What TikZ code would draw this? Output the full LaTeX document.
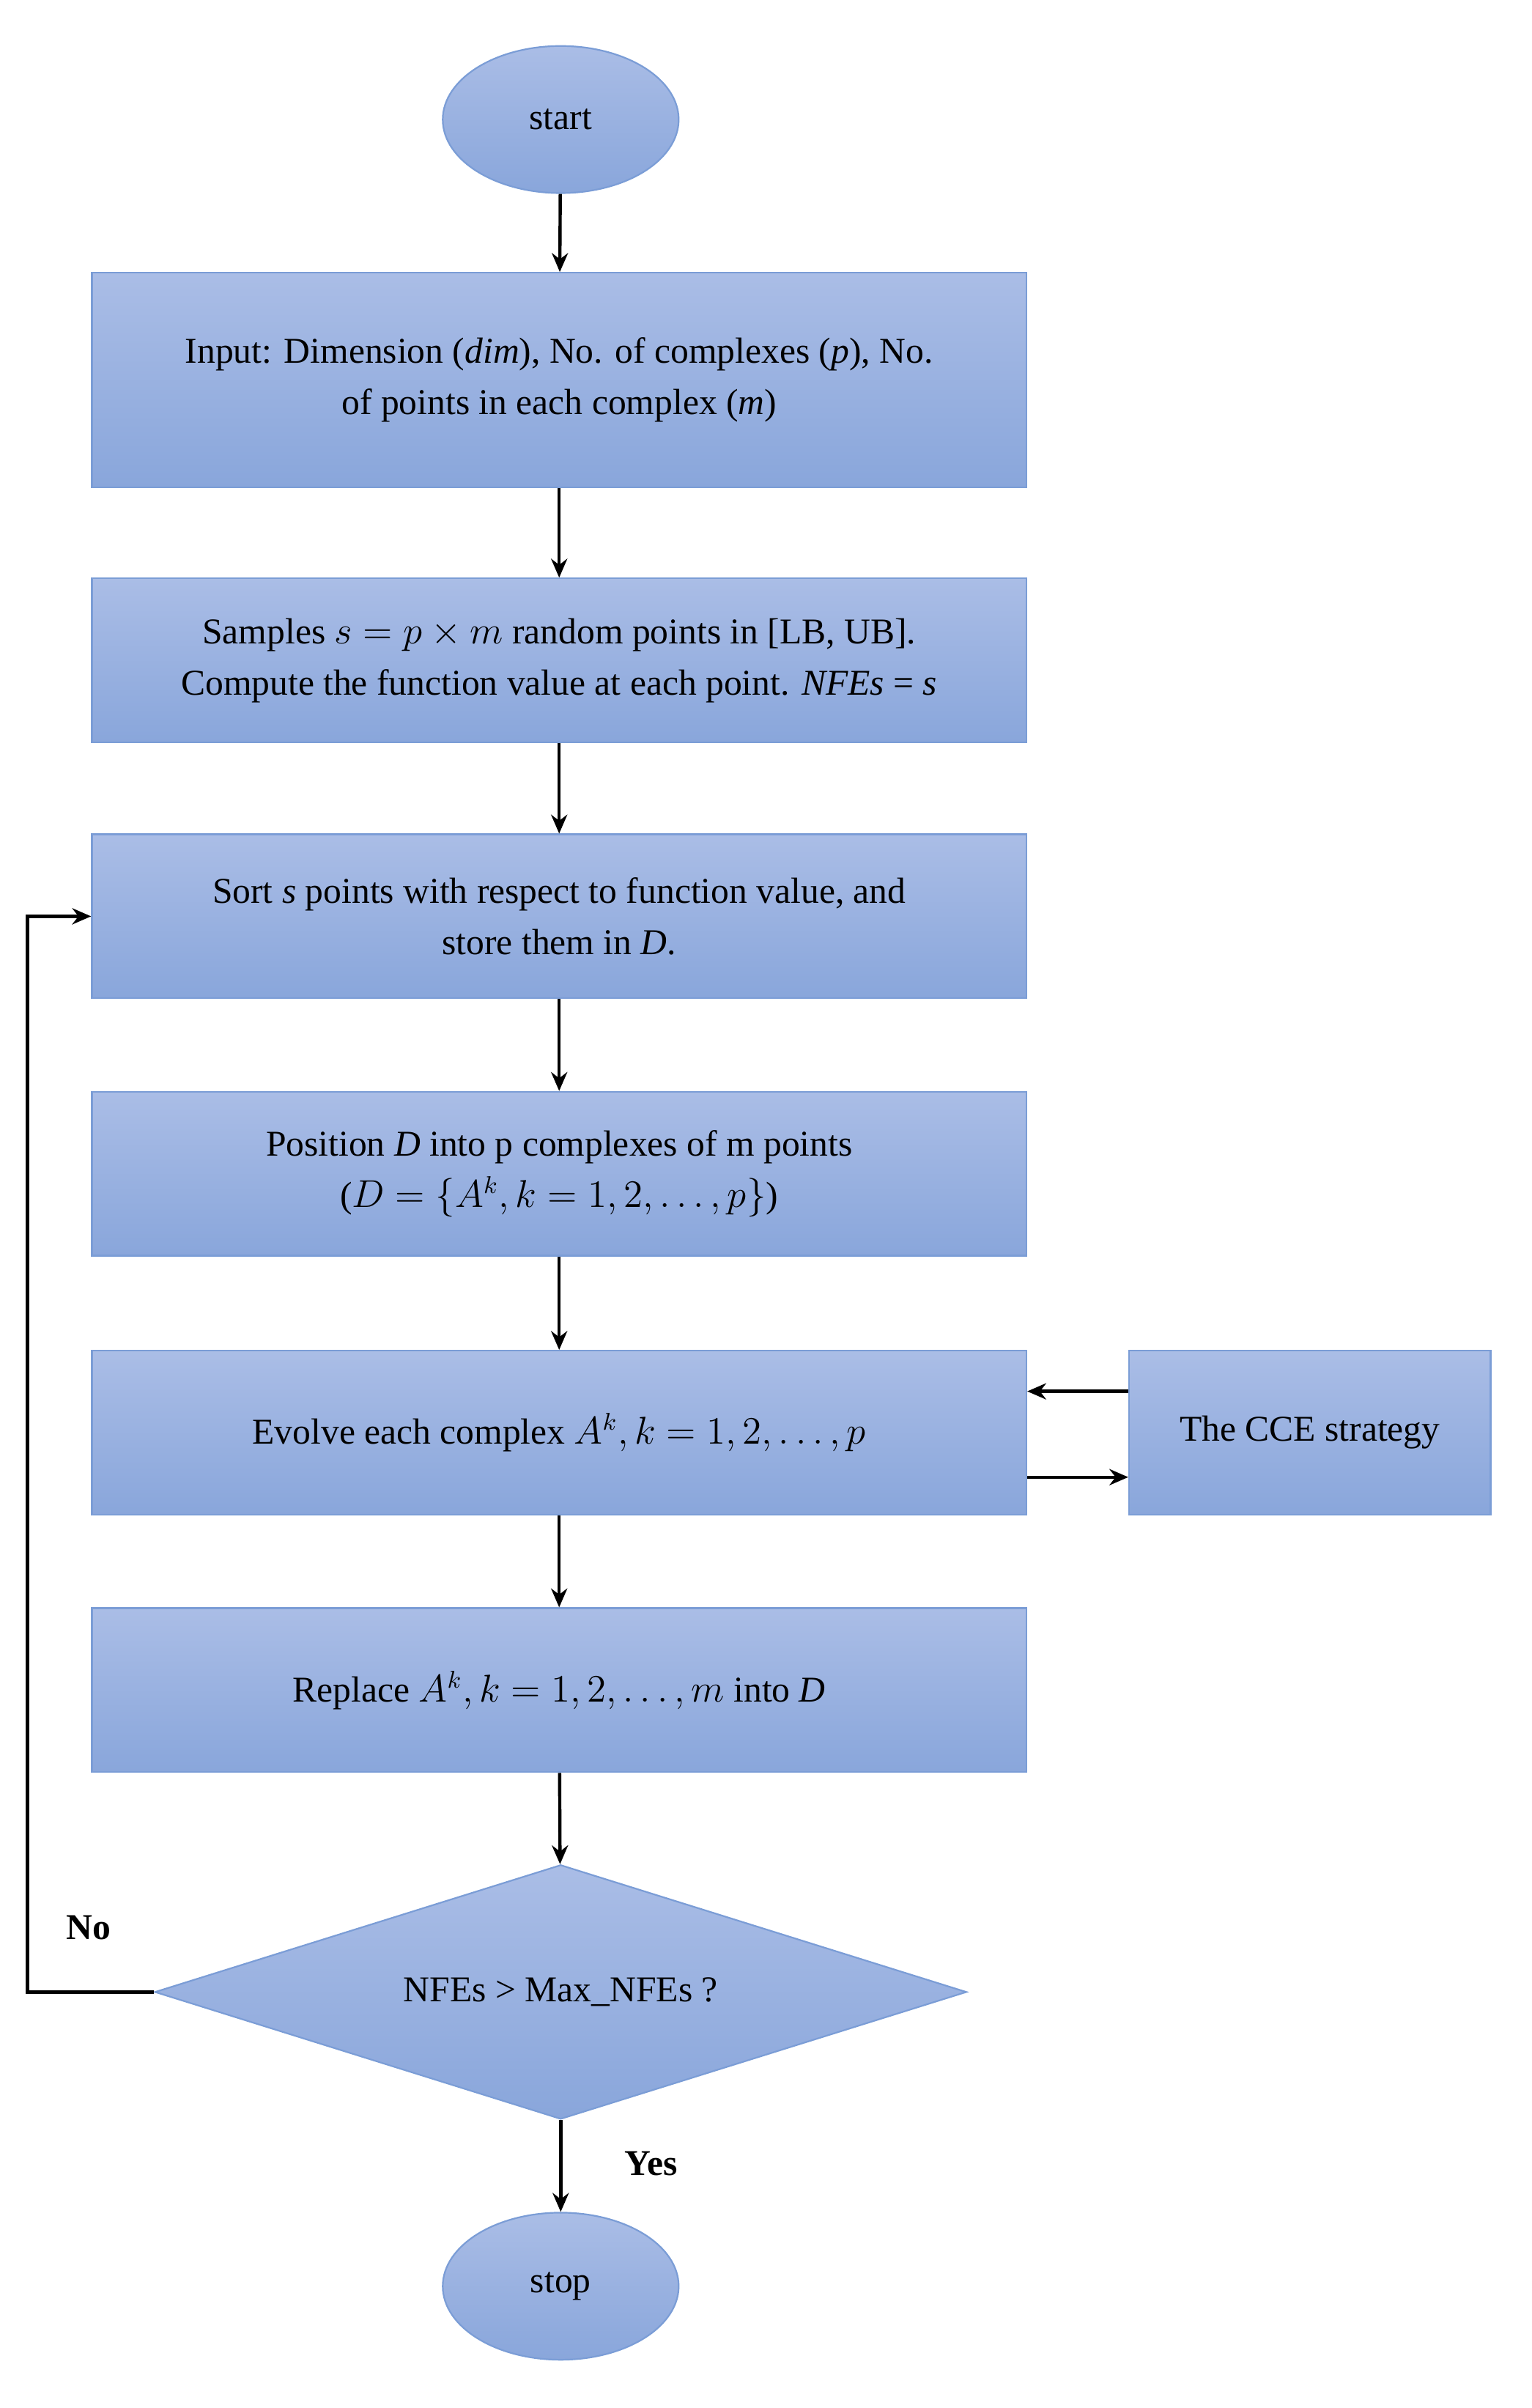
\documentclass[tikz,border=0pt]{standalone}
\usepackage{fontspec}
\setmainfont{Liberation Serif}
\usepackage{amsmath}
\usetikzlibrary{shapes.geometric,arrows.meta}
\definecolor{topc}{HTML}{AABDE6}
\definecolor{botc}{HTML}{89A6DB}
\definecolor{edge}{HTML}{7B9DD6}
\begin{document}
\begin{tikzpicture}[x=0.02cm,y=-0.02cm,
  base/.style={draw=edge,line width=0.6pt,top color=topc,bottom color=botc,inner sep=0pt,align=center,font=\fontsize{13.5}{19}\selectfont},
  box/.style={base,rectangle,minimum width=610*0.02cm,minimum height=107*0.02cm},
  term/.style={base,ellipse,minimum width=154*0.02cm,minimum height=96*0.02cm},
  arr/.style={-{Stealth[length=7pt,width=6pt]},line width=1.2pt}]
\useasboundingbox (0,0) rectangle (1000,1571.5);
\node[term] (start) at (366,78) {start};
\node[box,minimum height=140*0.02cm] (b1) at (365,248) {Input: Dimension (\textit{dim}), No. of complexes (\textit{p}), No.\\of points in each complex (\textit{m})};
\node[box] (b2) at (365,431) {Samples $s=p\times m$ random points in [LB, UB].\\Compute the function value at each point. \textit{NFEs} = \textit{s}};
\node[box] (b3) at (365,598) {Sort \textit{s} points with respect to function value, and\\store them in \textit{D}.};
\node[box] (b4) at (365,766) {Position \textit{D} into p complexes of m points\\($D=\{A^k, k=1,2,\ldots,p\}$)};
\node[box] (b5) at (365,935) {Evolve each complex $A^k, k=1,2,\ldots,p$};
\node[base,rectangle,minimum width=236*0.02cm,minimum height=107*0.02cm] (cce) at (855,935) {The CCE strategy};
\node[box] (b6) at (365,1103) {Replace $A^k, k=1,2,\ldots,m$ into \textit{D}};
\node[base,diamond,aspect=3.19,minimum width=530*0.02cm,minimum height=166*0.02cm] (dec) at (366,1300) {NFEs > Max\_NFEs ?};
\node[term] (stop) at (366,1492) {stop};
\coordinate (lc) at (18,1300);
\coordinate (lu) at (18,598);
\draw[arr] (start) -- (b1);
\draw[arr] (b1) -- (b2);
\draw[arr] (b2) -- (b3);
\draw[arr] (b3) -- (b4);
\draw[arr] (b4) -- (b5);
\draw[arr] (b5) -- (b6);
\draw[arr] (b6) -- (dec);
\draw[arr] (dec) -- (stop);
\draw[arr] ([yshift=-29*0.02cm]b5.east) -- ([yshift=-29*0.02cm]cce.west);
\draw[arr] ([yshift=27*0.02cm]cce.west) -- ([yshift=27*0.02cm]b5.east);
\draw[arr] (dec.west) -- (lc) -- (lu) -- (b3.west);
\node[font=\fontsize{13.5}{16}\selectfont\bfseries] (no) at (58,1258) {No};
\node[font=\fontsize{13.5}{16}\selectfont\bfseries] (yes) at (425,1412) {Yes};
\end{tikzpicture}
\end{document}
